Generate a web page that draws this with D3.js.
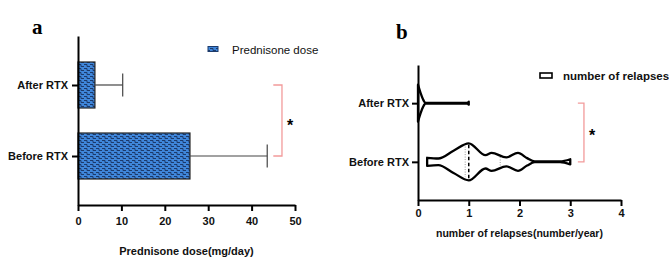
<!DOCTYPE html>
<html lang="en">
<head>
  <meta charset="UTF-8">
  <title>Prednisone dose and relapses</title>
  <style>
    body{ margin: 0; background: #fff; }
    svg{ display: block; font-family: "Liberation Sans", Arial, sans-serif; }
  </style>
</head>
<body>
  <script src="https://cdn.jsdelivr.net/npm/d3@7"></script>
  <script>
    const w = 669, h = 266;

    // data
    const categories = ['After RTX', 'Before RTX'];
    const doseMean = [3.9, 25.8];
    const doseSD = [6.4, 17.8];
    const doseTicks = [0, 10, 20, 30, 40, 50];
    const relapseTicks = [0, 1, 2, 3, 4];
    // violin outlines: value -> relative density
    const afterViolinX = [0, 0.05, 0.1, 0.15, 0.97, 1];
    const afterViolinD = [1, 0.55, 0.2, 0.02, 0.02, 0.08];
    const beforeViolinX = [0.18, 0.4, 0.7, 1, 1.33, 1.45, 1.74, 1.97, 2.15, 2.3, 2.8, 3];
    const beforeViolinD = [0.22, 0.18, 0.6, 1, 0.36, 0.49, 0.24, 0.49, 0.2, 0.02, 0.02, 0.14];
    const beforeQuartiles = [0.93, 1, 1.62]; // q1, median, q3

    const svg = d3.select('body').append('svg').attr('width', w).attr('height', h);

    const defs = svg.append('defs');
    const pat = defs.append('pattern').attr('id', 'weave')
      .attr('width', 6).attr('height', 4).attr('patternUnits', 'userSpaceOnUse');
    pat.append('rect').attr('width', 6).attr('height', 4).attr('fill', '#3f86da');
    pat.append('path').attr('d', 'M0,0.5h3v2h3')
      .attr('fill', 'none').attr('stroke', '#1c3a6b').attr('stroke-width', 1);

    function styleAxis(g){
      g.select('.domain').attr('stroke', '#000').attr('stroke-width', 2);
      g.selectAll('.tick line').attr('stroke', '#000').attr('stroke-width', 2);
      g.selectAll('.tick text').attr('fill', '#111').attr('font-weight', 'bold').attr('font-size', 11);
    }

    // ---------- panel a ----------
    const xA = d3.scaleLinear().domain([0, 50]).range([78, 295]);
    const yA = d3.scalePoint().domain(categories).range([36, 205]).padding(0.69);
    const barH = 46;

    svg.append('text').attr('x', 32).attr('y', 34)
      .attr('font-family', '"Liberation Serif", "DejaVu Serif", serif')
      .attr('font-weight', 'bold').attr('font-size', 21).text('a');

    svg.append('g').selectAll('rect').data(categories).join('rect')
      .attr('x', xA(0))
      .attr('y', d => yA(d) - barH / 2)
      .attr('width', (d, i) => xA(doseMean[i]) - xA(0))
      .attr('height', barH)
      .attr('fill', 'url(#weave)')
      .attr('stroke', '#222').attr('stroke-width', 1.2);

    const err = svg.append('g').attr('stroke', '#444').attr('stroke-width', 1.2);
    categories.forEach((c, i) => {
      const y = yA(c), x1 = xA(doseMean[i]), x2 = xA(doseMean[i] + doseSD[i]);
      err.append('line').attr('x1', x1).attr('x2', x2).attr('y1', y).attr('y2', y);
      err.append('line').attr('x1', x2).attr('x2', x2).attr('y1', y - 11.5).attr('y2', y + 11.5);
    });

    svg.append('g').attr('transform', `translate(0,${205})`)
      .call(d3.axisBottom(xA).tickValues(doseTicks).tickSize(6).tickSizeOuter(0).tickPadding(6))
      .call(styleAxis);
    svg.append('g').attr('transform', `translate(${xA(0)},0)`)
      .call(d3.axisLeft(yA).tickSize(6).tickSizeOuter(0).tickPadding(4))
      .call(styleAxis);

    svg.append('text').attr('x', (xA(0) + xA(50)) / 2).attr('y', 255)
      .attr('text-anchor', 'middle').attr('font-weight', 'bold').attr('font-size', 11)
      .attr('fill', '#111').text('Prednisone dose(mg/day)');

    // legend a
    svg.append('rect').attr('x', 208).attr('y', 46.5).attr('width', 10).attr('height', 5)
      .attr('fill', 'url(#weave)').attr('stroke', '#1c3a6b').attr('stroke-width', 1);
    svg.append('text').attr('x', 232).attr('y', 49.5).attr('dominant-baseline', 'central')
      .attr('font-size', 11.5).attr('fill', '#111').text('Prednisone dose');

    // significance a
    const pink = '#f29b9b';
    svg.append('path')
      .attr('d', `M${xA(45)},${yA(categories[0])}H${xA(47)}V${yA(categories[1])}H${xA(45)}`)
      .attr('fill', 'none').attr('stroke', pink).attr('stroke-width', 1.3);
    svg.append('text').attr('x', 290).attr('y', 131).attr('text-anchor', 'middle')
      .attr('font-weight', 'bold').attr('font-size', 16).text('*');

    // ---------- panel b ----------
    const xB = d3.scaleLinear().domain([0, 4]).range([418, 621]);
    const yB = d3.scalePoint().domain(categories).range([65, 200]).padding(0.65);
    const wB = d3.scaleLinear().domain([0, 1]).range([0, 18.5]);

    svg.append('text').attr('x', 396).attr('y', 39)
      .attr('font-family', '"Liberation Serif", "DejaVu Serif", serif')
      .attr('font-weight', 'bold').attr('font-size', 21).text('b');

    const violins = [
      { cat: categories[0], xs: afterViolinX, ds: afterViolinD },
      { cat: categories[1], xs: beforeViolinX, ds: beforeViolinD }
    ];
    violins.forEach(v => {
      const pts = v.xs.map((x, i) => [x, v.ds[i]]);
      const cy = yB(v.cat);
      const area = d3.area().curve(d3.curveMonotoneX)
        .x(d => xB(d[0])).y0(d => cy - wB(d[1])).y1(d => cy + wB(d[1]));
      svg.append('path').attr('d', area(pts))
        .attr('fill', '#fff').attr('stroke', '#000').attr('stroke-width', 2.3)
        .attr('stroke-linejoin', 'round');
    });

    // median and quartile lines on the before-RTX violin
    const dens = d3.scaleLinear().domain(beforeViolinX).range(beforeViolinD);
    const cyB = yB(categories[1]);
    beforeQuartiles.forEach((q, i) => {
      const hw = wB(dens(q)) - 1.5;
      svg.append('line')
        .attr('x1', xB(q)).attr('x2', xB(q))
        .attr('y1', cyB - hw).attr('y2', cyB + hw)
        .attr('stroke', i === 1 ? '#000' : '#999')
        .attr('stroke-width', i === 1 ? 1.5 : 1)
        .attr('stroke-dasharray', i === 1 ? '3.5,2.5' : '1,1.5');
    });

    svg.append('g').attr('transform', `translate(0,${200})`)
      .call(d3.axisBottom(xB).tickValues(relapseTicks).tickFormat(d3.format('d'))
        .tickSize(6).tickSizeOuter(0).tickPadding(3))
      .call(styleAxis);
    svg.append('g').attr('transform', `translate(${xB(0)},0)`)
      .call(d3.axisLeft(yB).tickSize(6).tickSizeOuter(0).tickPadding(3))
      .call(styleAxis);

    svg.append('text').attr('x', (xB(0) + xB(4)) / 2).attr('y', 237)
      .attr('text-anchor', 'middle').attr('font-weight', 'bold').attr('font-size', 10.5)
      .attr('fill', '#111').text('number of relapses(number/year)');

    // legend b
    svg.append('rect').attr('x', 540).attr('y', 73).attr('width', 12).attr('height', 5)
      .attr('fill', '#fff').attr('stroke', '#000').attr('stroke-width', 1.6);
    svg.append('text').attr('x', 563).attr('y', 75.5).attr('dominant-baseline', 'central')
      .attr('font-size', 11.5).attr('font-weight', 'bold').attr('fill', '#111').text('number of relapses');

    // significance b
    svg.append('path')
      .attr('d', `M${xB(3.15)},${yB(categories[0])}H${xB(3.27)}V${yB(categories[1])}H${xB(3.15)}`)
      .attr('fill', 'none').attr('stroke', pink).attr('stroke-width', 1.3);
    svg.append('text').attr('x', 592).attr('y', 141).attr('text-anchor', 'middle')
      .attr('font-weight', 'bold').attr('font-size', 16).text('*');
  </script>
</body>
</html>
